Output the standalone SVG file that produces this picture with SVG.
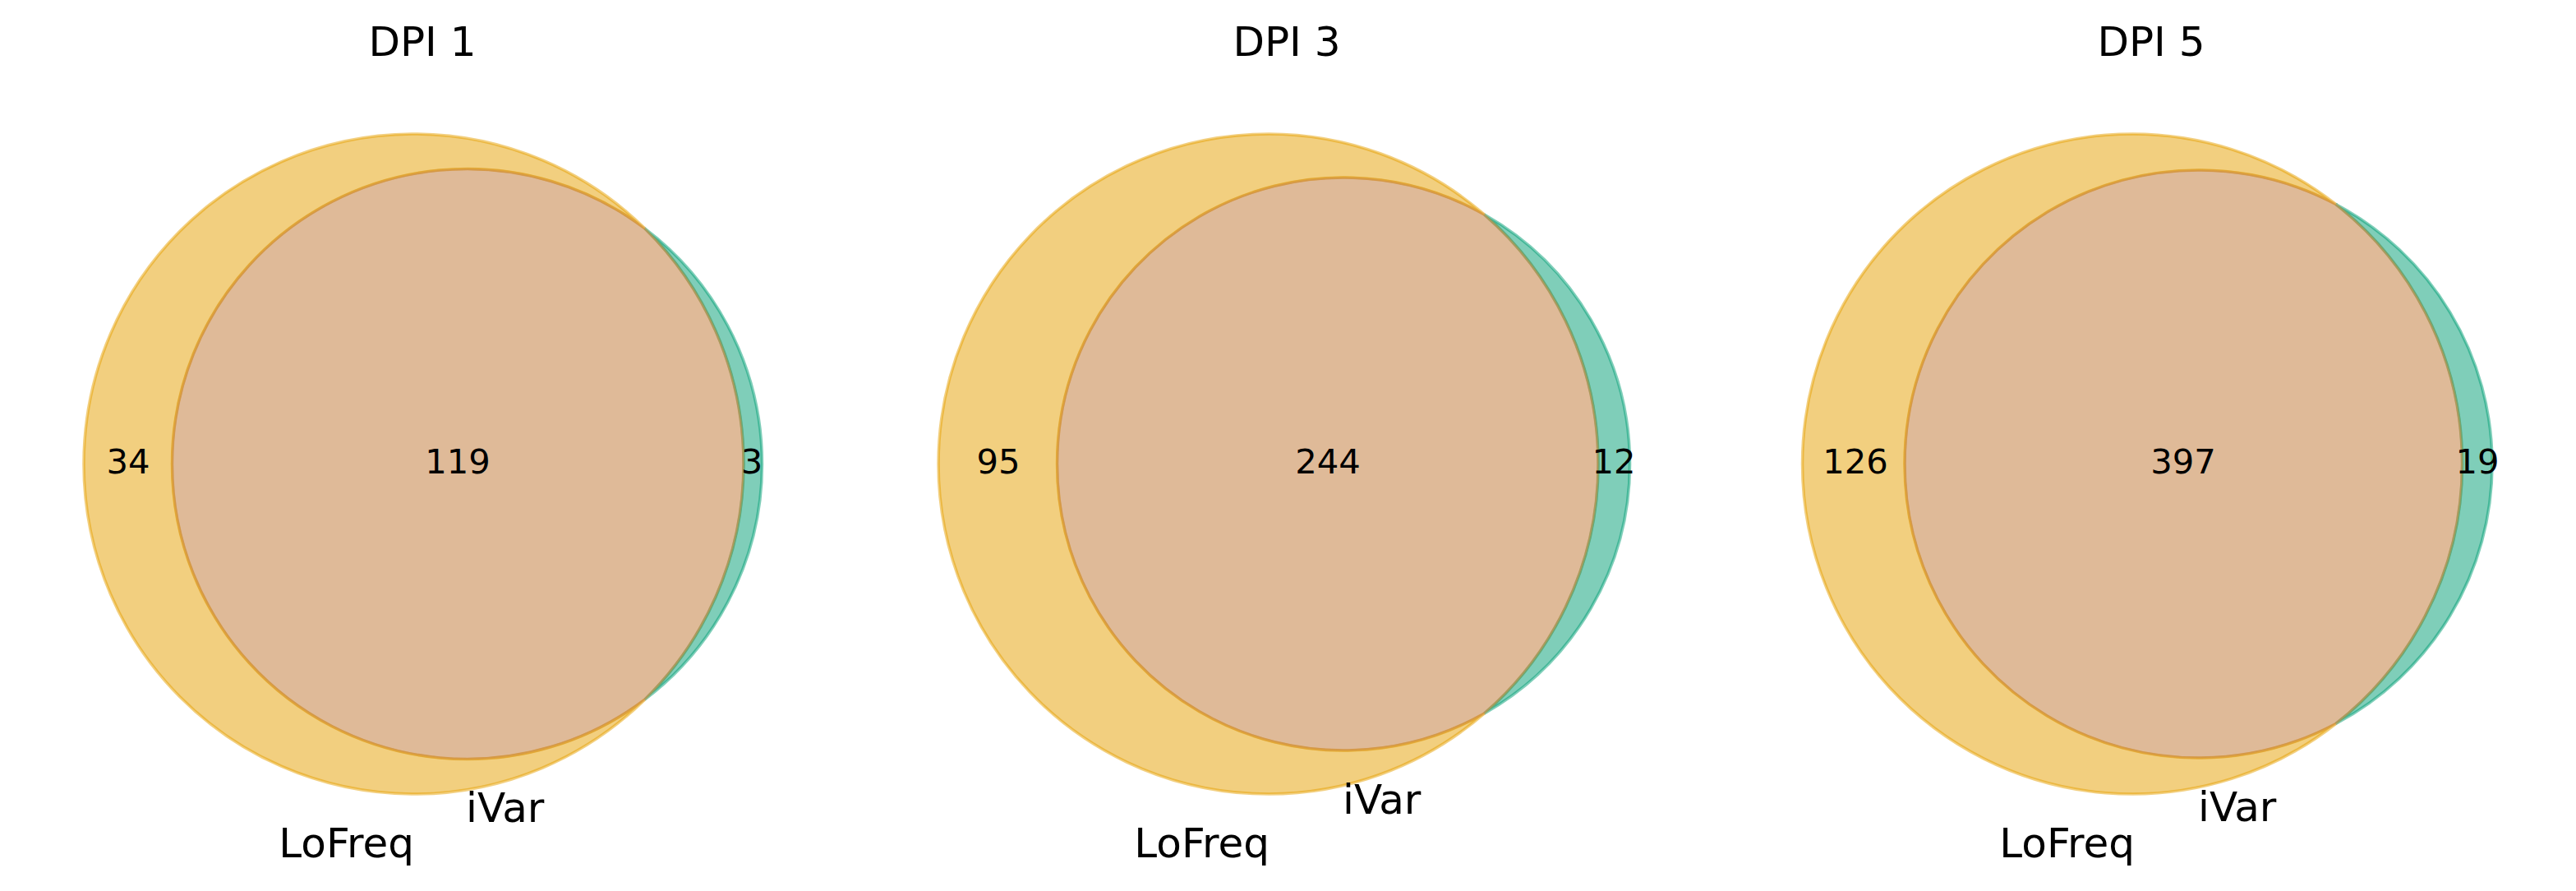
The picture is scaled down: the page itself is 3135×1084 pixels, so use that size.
<svg xmlns="http://www.w3.org/2000/svg" width="3135" height="1084" viewBox="0 0 3135 1084">
<style>
text{font-family:"DejaVu Sans","Liberation Sans",sans-serif;fill:#000}
.title{font-size:50px;text-anchor:middle}
.num{font-size:41.7px;text-anchor:middle}
.set{font-size:50px}
.a{fill:#E69F00;fill-opacity:.5;stroke:#E69F00;stroke-opacity:.5;stroke-width:3.5}
.b{fill:#009E73;fill-opacity:.5;stroke:#009E73;stroke-opacity:.5;stroke-width:3.5}
.ab{fill:#BF7531;fill-opacity:.5;stroke:#D08A2A;stroke-opacity:.4;stroke-width:3}
</style>
<rect width="3135" height="1084" fill="#fff"/>
<g id="dpi1">
<path class="a" d="M784.6 277.85 A401.5 401.5 0 1 0 784.6 851.15 A359 359 0 1 1 784.6 277.85 Z"/>
<path class="b" d="M784.6 277.85 A359 359 0 0 1 784.6 851.15 A401.5 401.5 0 0 0 784.6 277.85 Z"/>
<path class="ab" d="M784.6 277.85 A401.5 401.5 0 0 1 784.6 851.15 A359 359 0 1 1 784.6 277.85 Z"/>
<text class="title" x="514" y="68">DPI 1</text>
<text class="num" x="156" y="576">34</text>
<text class="num" x="557" y="576">119</text>
<text class="num" x="915" y="576">3</text>
<text class="set" x="504" y="1043" text-anchor="end">LoFreq</text>
<text class="set" x="567" y="1000">iVar</text>
</g>
<g id="dpi3">
<path class="a" d="M1806.5 261.1 A401.5 401.5 0 1 0 1806.5 867.9 A348.5 348.5 0 1 1 1806.5 261.1 Z"/>
<path class="b" d="M1806.5 261.1 A348.5 348.5 0 0 1 1806.5 867.9 A401.5 401.5 0 0 0 1806.5 261.1 Z"/>
<path class="ab" d="M1806.5 261.1 A401.5 401.5 0 0 1 1806.5 867.9 A348.5 348.5 0 1 1 1806.5 261.1 Z"/>
<text class="title" x="1566" y="68">DPI 3</text>
<text class="num" x="1215" y="576">95</text>
<text class="num" x="1616" y="576">244</text>
<text class="num" x="1964" y="576">12</text>
<text class="set" x="1545" y="1043" text-anchor="end">LoFreq</text>
<text class="set" x="1634" y="990">iVar</text>
</g>
<g id="dpi5">
<path class="a" d="M2842.7 248.5 A401.5 401.5 0 1 0 2842.7 880.5 A357.5 357.5 0 1 1 2842.7 248.5 Z"/>
<path class="b" d="M2842.7 248.5 A357.5 357.5 0 0 1 2842.7 880.5 A401.5 401.5 0 0 0 2842.7 248.5 Z"/>
<path class="ab" d="M2842.7 248.5 A401.5 401.5 0 0 1 2842.7 880.5 A357.5 357.5 0 1 1 2842.7 248.5 Z"/>
<text class="title" x="2618" y="68">DPI 5</text>
<text class="num" x="2258" y="576">126</text>
<text class="num" x="2657" y="576">397</text>
<text class="num" x="3015" y="576">19</text>
<text class="set" x="2598" y="1043" text-anchor="end">LoFreq</text>
<text class="set" x="2675" y="999">iVar</text>
</g>
</svg>
